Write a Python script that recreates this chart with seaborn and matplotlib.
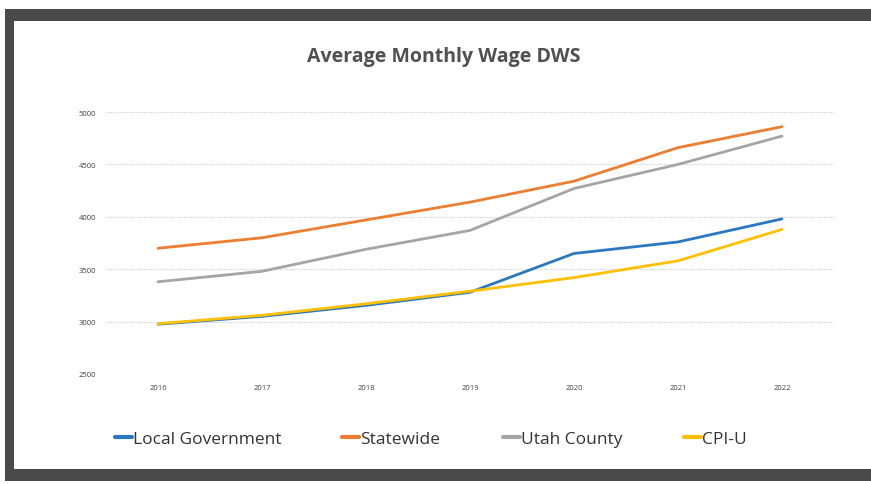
import matplotlib
matplotlib.use("Agg")
import matplotlib.pyplot as plt
from matplotlib.patches import Rectangle
import pandas as pd
import seaborn as sns

years = [2016, 2017, 2018, 2019, 2020, 2021, 2022]
local_government = [2975, 3050, 3155, 3280, 3650, 3760, 3980]
statewide = [3700, 3800, 3970, 4140, 4340, 4660, 4860]
utah_county = [3380, 3480, 3690, 3870, 4270, 4500, 4770]
cpi_u = [2980, 3060, 3170, 3290, 3420, 3580, 3880]

series = ["Local Government", "Statewide", "Utah County", "CPI-U"]
colors = ["#2B78C2", "#ED7D31", "#A5A5A5", "#FFC000"]

df = pd.DataFrame({
    "Year": years,
    "Local Government": local_government,
    "Statewide": statewide,
    "Utah County": utah_county,
    "CPI-U": cpi_u,
})
long = df.melt(id_vars="Year", var_name="Series", value_name="Wage")

sns.set_style("white")
plt.rcParams["font.family"] = ["Open Sans", "DejaVu Sans"]

fig = plt.figure(figsize=(8.71, 4.85), dpi=100)
W, H = 871, 485

# scanned frame
fig.patches.append(Rectangle((5 / W, 3 / H), 1, (482 - 10) / H, transform=fig.transFigure,
                             facecolor="#4a4a4a", edgecolor="none", zorder=-2))
fig.patches.append(Rectangle((14 / W, 15 / H), 1, (470 - 22) / H, transform=fig.transFigure,
                             facecolor="white", edgecolor="none", zorder=-1))

ax = fig.add_axes([106 / W, (485 - 375) / H, (834 - 106) / W, (375 - 113) / H])
ax.set_facecolor("none")
ax.set_zorder(2)

sns.lineplot(data=long, x="Year", y="Wage", hue="Series", hue_order=series,
             palette=colors, linewidth=2.0, ax=ax, legend=False)

ax.set_xlim(2015.5, 2022.5)
ax.set_ylim(2500, 5000)
ax.set_xticks(years)
ax.set_yticks(range(2500, 5001, 500))
ax.tick_params(axis="both", labelsize=5.5, colors="#404040", length=0, pad=7)
ax.set_xlabel("")
ax.set_ylabel("")
ax.grid(axis="y", color="#d0d0d0", linestyle=(0, (1, 1)), linewidth=0.8)
ax.set_axisbelow(True)
for s in ax.spines.values():
    s.set_visible(False)

fig.text(444 / W, 1 - 57 / H, "Average Monthly Wage DWS", ha="center", va="center",
         fontsize=14, fontweight="bold", color="#505050")

# one legend entry per slot, like the Excel legend
legend_x = [115, 342, 503, 684]
for name, c, lx in zip(series, colors, legend_x):
    h = plt.Line2D([], [], color=c, linewidth=3)
    fig.legend([h], [name], loc="center left", bbox_to_anchor=(lx / W, 1 - 440 / H),
               frameon=False, fontsize=12.5, handlelength=1.0, handletextpad=0.05,
               labelcolor="#333333", borderaxespad=0, borderpad=0)

fig.savefig("out.png", dpi=100)
